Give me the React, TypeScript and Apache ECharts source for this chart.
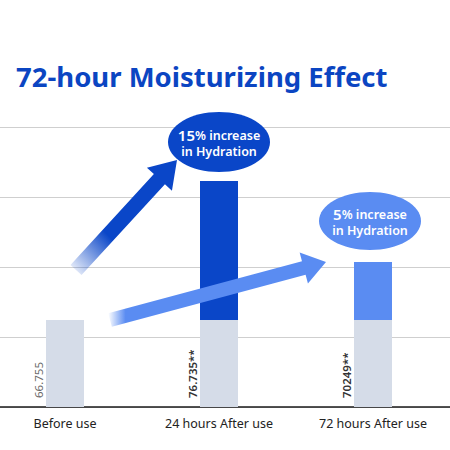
import React, { useEffect, useRef } from "react";
import * as echarts from "echarts";

const categories = ["Before use", "24 hours After use", "72 hours After use"];
const baseValues = [1.243, 1.243, 1.243];
const increaseValues = [0, 1.986, 0.829];
const valueLabels = ["66.755", "76.735**", "70249**"];
const titleText = "72-hour Moisturizing Effect";
const bubbleTexts = [
  { pct: "15", rest: "% increase", line2: "in Hydration" },
  { pct: "5", rest: "% increase", line2: "in Hydration" },
];

const DARK = "#0a46c8";
const MID = "#5a8cf2";
const LIGHT = "#d5dce8";
const FONT = "'Noto Sans', sans-serif";

function arrowPoints(sx: number, sy: number, tx: number, ty: number, shw: number, hl: number, hhw: number) {
  const dx = tx - sx, dy = ty - sy;
  const len = Math.sqrt(dx * dx + dy * dy);
  const ux = dx / len, uy = dy / len;
  const nx = -uy, ny = ux;
  const bx = tx - ux * hl, by = ty - uy * hl;
  return [
    [sx + nx * shw, sy + ny * shw],
    [bx + nx * shw, by + ny * shw],
    [bx + nx * hhw, by + ny * hhw],
    [tx, ty],
    [bx - nx * hhw, by - ny * hhw],
    [bx - nx * shw, by - ny * shw],
    [sx - nx * shw, sy - ny * shw],
  ];
}

export default function App() {
  const ref = useRef<HTMLDivElement>(null);
  useEffect(() => {
    if (!ref.current) return;
    const chart = echarts.init(ref.current, null, { renderer: "svg" });
    const bubbles = [
      { cx: 219, cy: 142, k: 0 },
      { cx: 370, cy: 221, k: 1 },
    ];
    const bubbleTextEls: any[] = [];
    bubbles.forEach(({ cx, cy, k }) => {
      bubbleTextEls.push({
        type: "text",
        z: 12,
        x: cx,
        y: cy,
        style: {
          text: `{p|${bubbleTexts[k].pct}}{r|${bubbleTexts[k].rest}}`,
          align: "center",
          verticalAlign: "bottom",
          rich: {
            p: { fontSize: 15, fontWeight: 600, fill: "#fff", fontFamily: FONT, lineHeight: 14 },
            r: { fontSize: 12.5, fontWeight: 600, fill: "#fff", fontFamily: FONT, lineHeight: 14 },
          },
        },
      });
      bubbleTextEls.push({
        type: "text",
        z: 12,
        x: cx,
        y: cy + 2,
        style: {
          text: bubbleTexts[k].line2,
          align: "center",
          verticalAlign: "top",
          fill: "#fff",
          font: `600 12.5px ${FONT}`,
          lineHeight: 14,
        },
      });
    });
    const option: any = {
      animation: false,
      backgroundColor: "#ffffff",
      grid: {
        left: -12,
        right: 0,
        top: 127,
        bottom: 43,
        containLabel: false,
        outerBoundsMode: "none",
      },
      xAxis: {
        type: "category",
        data: categories,
        axisLine: { lineStyle: { color: "#1a1a1a", width: 1.5 } },
        axisTick: { show: false },
        axisLabel: { color: "#222", fontSize: 12.5, fontFamily: FONT, margin: 10 },
      },
      yAxis: {
        type: "value",
        min: 0,
        max: 4,
        interval: 1,
        axisLine: { show: false },
        axisTick: { show: false },
        axisLabel: { show: false },
        splitLine: { lineStyle: { color: "#cfcfcf", width: 1 } },
      },
      series: [
        {
          type: "bar",
          stack: "s",
          barWidth: 38,
          data: baseValues,
          itemStyle: { color: LIGHT },
        },
        {
          type: "bar",
          stack: "s",
          barWidth: 38,
          data: increaseValues.map((v, i) => ({
            value: v,
            itemStyle: { color: i === 1 ? DARK : MID },
          })),
        },
        {
          type: "custom",
          z: 5,
          data: valueLabels.map((_, i) => [i, 0]),
          renderItem: (params: any, api: any) => {
            const p = api.coord([api.value(0), 0]);
            const i = params.dataIndex;
            return {
              type: "text",
              x: p[0] - 27,
              y: p[1] - 9,
              rotation: Math.PI / 2,
              style: {
                text: valueLabels[i],
                fill: i === 0 ? "#6a6a6a" : "#333",
                font: `${i === 0 ? "normal" : "600"} 11.5px ${FONT}`,
                align: "left",
                verticalAlign: "middle",
              },
            };
          },
        },
      ],
      graphic: [
        {
          type: "text",
          left: 16,
          top: 62,
          style: {
            text: titleText,
            fill: "#0b45c2",
            font: `bold 27.5px ${FONT}`,
          },
        },
        {
          type: "polygon",
          z: 10,
          shape: { points: arrowPoints(76, 270, 177, 160, 7.5, 26, 17) },
          style: {
            fill: {
              type: "linear",
              x: 0, y: 1, x2: 1, y2: 0,
              colorStops: [
                { offset: 0, color: "rgba(10,70,200,0)" },
                { offset: 0.35, color: DARK },
                { offset: 1, color: DARK },
              ],
            },
          },
        },
        {
          type: "polygon",
          z: 10,
          shape: { points: arrowPoints(110, 320, 326, 262, 7, 23, 16) },
          style: {
            fill: {
              type: "linear",
              x: 0, y: 0, x2: 1, y2: 0,
              colorStops: [
                { offset: 0, color: "rgba(90,140,242,0)" },
                { offset: 0.08, color: MID },
                { offset: 1, color: MID },
              ],
            },
          },
        },
        {
          type: "ellipse",
          z: 11,
          shape: { cx: 219, cy: 142, rx: 51, ry: 30 },
          style: { fill: DARK },
        },
        {
          type: "ellipse",
          z: 11,
          shape: { cx: 370, cy: 221, rx: 51, ry: 29 },
          style: { fill: MID },
        },
        ...bubbleTextEls,
      ],
    };
    chart.setOption(option);
    return () => chart.dispose();
  }, []);
  return (
    <div
      ref={ref}
      style={{ position: "absolute", left: 0, top: 0, width: 450, height: 450 }}
    />
  );
}
